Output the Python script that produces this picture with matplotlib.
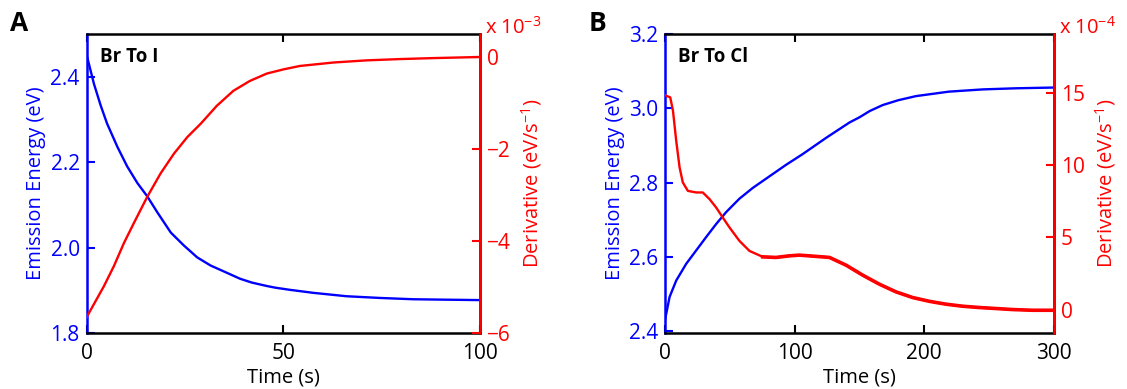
import matplotlib
matplotlib.use("Agg")
import matplotlib.pyplot as plt

plt.rcParams['font.family'] = ['Open Sans', 'DejaVu Sans']
plt.rcParams['mathtext.fontset'] = 'custom'
plt.rcParams['mathtext.rm'] = 'Open Sans'
plt.rcParams['mathtext.it'] = 'Open Sans'
plt.rcParams['font.size'] = 14.5

# panel A: Br -> I
t_a_energy = [0, 0.16, 1.86, 3.55, 5.2, 7.8, 10.3, 12.9, 15.4, 18.0, 21.4, 24.7, 28.1, 31.5,
              34.9, 39, 42, 45.8, 48, 51.7, 57.6, 66.1, 74.6, 83, 91, 100]
energy_a = [2.447, 2.445, 2.383, 2.333, 2.290, 2.236, 2.190, 2.151, 2.120, 2.082, 2.035, 2.005,
            1.977, 1.958, 1.944, 1.927, 1.918, 1.910, 1.906, 1.901, 1.894, 1.886, 1.882, 1.879,
            1.878, 1.877]
t_a_deriv = [0, 0.16, 1.86, 4.4, 6.9, 9.5, 12.0, 15.4, 18.8, 22.2, 25.6, 29.0, 33.1, 37.3,
             41.5, 45.8, 50, 54.2, 62.7, 71.2, 79.7, 88.1, 100]
deriv_a = [-5.66, -5.63, -5.37, -4.98, -4.55, -4.04, -3.61, -3.04, -2.53, -2.10, -1.74, -1.45,
           -1.06, -0.735, -0.52, -0.36, -0.27, -0.195, -0.12, -0.073, -0.045, -0.024, 0.0]

# panel B: Br -> Cl
t_b_energy = [0, 0.5, 3.6, 8.7, 16.4, 24.1, 31.8, 39.5, 47.2, 57.4, 67.7, 80.5, 93.3, 106.2,
              124.4, 142.3, 150, 158, 168, 180, 193.6, 219, 245, 270.5, 300]
energy_b = [2.43, 2.439, 2.493, 2.537, 2.582, 2.618, 2.654, 2.689, 2.721, 2.757, 2.786, 2.817,
            2.848, 2.877, 2.921, 2.962, 2.976, 2.993, 3.009, 3.022, 3.033, 3.045, 3.051, 3.054,
            3.056]
t_b_deriv = [0, 1.0, 4.1, 6.2, 8.7, 11.3, 13.8, 17.7, 24.1, 29.2, 34.4, 39.5, 44.6, 49.8, 57.4,
             65.2, 75.4, 85.6, 95.9, 103.8, 114.1, 126.9, 139.8, 152.6, 165.4, 178.2, 191,
             203.8, 216.7, 229.5, 242.3, 255.2, 268, 283.3, 300]
deriv_b = [14.85, 14.79, 14.68, 13.76, 11.68, 9.84, 8.80, 8.22, 8.11, 8.11, 7.65, 7.07, 6.38,
           5.69, 4.77, 4.07, 3.66, 3.62, 3.73, 3.78, 3.71, 3.62, 3.08, 2.39, 1.77, 1.24, 0.85,
           0.59, 0.39, 0.25, 0.16, 0.09, 0.02, -0.03, -0.03]

BLUE = '#0000ff'
RED = '#ff0000'

fig = plt.figure(figsize=(11.27, 3.89), dpi=100)


def panel(rect, t1, e, t2, d, xlim, xticks, ylim, yticks, ylim2, yticks2, scale, title, letter,
          noisy_from=None):
    ax = fig.add_axes(rect)
    ax.plot(t1, e, color=BLUE, lw=1.7)
    ax.set_xlim(xlim)
    ax.set_ylim(ylim)
    ax.set_xticks(xticks)
    ax.set_yticks(yticks)
    ax.set_yticklabels(['%.1f' % v for v in yticks])
    ax.tick_params(axis='x', direction='in', length=6, width=1.5, top=True, colors='black',
                   pad=7, labelsize=15)
    ax.tick_params(axis='y', direction='in', length=6, width=1.5, colors=BLUE, pad=5,
                   labelsize=15)
    ax.spines['left'].set_color(BLUE)
    for s in ax.spines.values():
        s.set_linewidth(1.8)
    ax.set_xlabel('Time (s)', labelpad=3)
    ax.set_ylabel('Emission Energy (eV)', color=BLUE, labelpad=3)
    ax.text(0.033, 0.955, title, transform=ax.transAxes, fontweight='bold', va='top',
            ha='left', fontsize=13.5)

    ax2 = ax.twinx()
    ax2.plot(t2, d, color=RED, lw=1.7)
    if noisy_from is not None:
        # measured trace gets visibly noisy here; drawn as a thicker band
        tt = [t for t in t2 if t >= noisy_from]
        dd = [v for t, v in zip(t2, d) if t >= noisy_from]
        ax2.plot(tt, dd, color=RED, lw=2.6)
    ax2.set_ylim(ylim2)
    ax2.set_yticks(yticks2)
    ax2.tick_params(axis='y', direction='in', length=6, width=1.5, colors=RED, pad=5,
                    labelsize=15)
    ax2.spines['right'].set_color(RED)
    ax2.spines['right'].set_linewidth(1.8)
    ax2.spines['left'].set_visible(False)
    ax2.spines['top'].set_visible(False)
    ax2.spines['bottom'].set_visible(False)
    ax2.set_ylabel('Derivative (eV/s$^{-1}$)', color=RED, labelpad=6)
    ax2.text(1.012, 0.985, 'x 10$^{-%d}$' % scale, transform=ax2.transAxes, color=RED,
             va='bottom', ha='left', fontsize=14.5)
    fig.text(rect[0] - 0.068, 0.975, letter, fontsize=19, fontweight='bold', va='top',
             ha='left')
    return ax, ax2


panel([0.0769, 0.144, 0.349, 0.7686], t_a_energy, energy_a, t_a_deriv, deriv_a,
      (0, 100), [0, 50, 100], (1.8, 2.5), [1.8, 2.0, 2.2, 2.4],
      (-6, 0.5), [-6, -4, -2, 0], 3, 'Br To I', 'A')

panel([0.590, 0.144, 0.3452, 0.7686], t_b_energy, energy_b, t_b_deriv, deriv_b,
      (0, 300), [0, 100, 200, 300], (2.396, 3.2), [2.4, 2.6, 2.8, 3.0, 3.2],
      (-1.6, 19.06), [0, 5, 10, 15], 4, 'Br To Cl', 'B', noisy_from=75)

fig.savefig('out.png', dpi=100)
